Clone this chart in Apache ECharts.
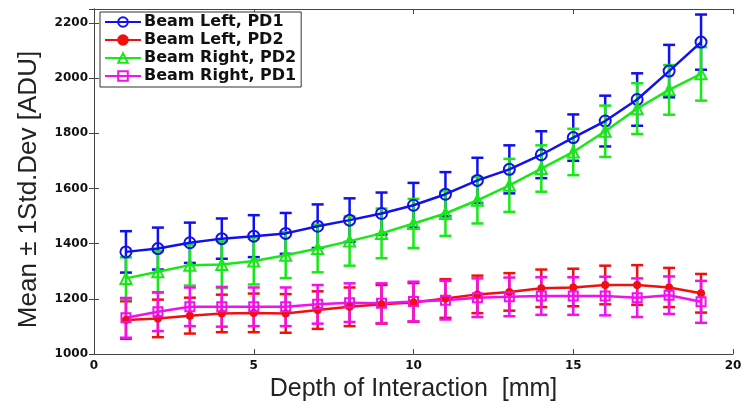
<!DOCTYPE html>
<html>
<head>
<meta charset="utf-8">
<script src="https://cdn.jsdelivr.net/npm/echarts@6/dist/echarts.min.js"></script>
<style>
html,body{margin:0;padding:0;background:#fff;}
#chart{width:750px;height:415px;}
</style>
</head>
<body>
<div id="chart"></div>
<script>
// ---- data ----
const depth = [1,2,3,4,5,6,7,8,9,10,11,12,13,14,15,16,17,18,19];

const seriesNames = ['Beam Left, PD1','Beam Left, PD2','Beam Right, PD2','Beam Right, PD1'];

const leftPD1Mean  = [1370,1382,1403,1418,1427,1437,1463,1485,1509,1539,1579,1629,1669,1722,1784,1844,1922,2025,2130];
const leftPD1Std   = [75,76,73,73,76,74,79,79,76,81,80,82,87,85,84,92,95,95,100];

const leftPD2Mean  = [1123,1129,1139,1147,1149,1147,1159,1171,1180,1187,1201,1216,1225,1238,1241,1250,1250,1241,1220];
const leftPD2Std   = [68,68,65,68,70,70,68,70,70,70,70,68,68,68,68,70,72,71,70];

const rightPD2Mean = [1274,1298,1322,1324,1337,1358,1382,1409,1437,1473,1509,1557,1611,1672,1732,1807,1889,1957,2015];
const rightPD2Std  = [76,74,74,85,85,83,86,89,90,89,81,84,96,84,84,93,92,90,97];

const rightPD1Mean = [1131,1153,1171,1171,1171,1171,1180,1186,1184,1190,1195,1204,1207,1210,1210,1210,1204,1213,1189];
const rightPD1Std  = [72,70,70,72,70,70,70,70,72,72,70,70,70,68,68,70,70,68,76];

const xTicks = [0,5,10,15,20];
const yTicks = [1000,1200,1400,1600,1800,2000,2200];

// ---- styling ----
const colors  = ['#1010f0','#f01010','#18e818','#f010f0'];
const symbols = ['circle','circle','triangle','rect'];
const symSizes = [11,6,11,9];
const symFill = ['rgba(0,0,0,0)', null, 'rgba(0,0,0,0)', 'rgba(0,0,0,0)'];
const means = [leftPD1Mean,leftPD2Mean,rightPD2Mean,rightPD1Mean];
const stds  = [leftPD1Std,leftPD2Std,rightPD2Std,rightPD1Std];

function errRender(color){
  return function(params, api){
    const x = api.value(0), lo = api.value(1), hi = api.value(2);
    const pLo = api.coord([x, lo]);
    const pHi = api.coord([x, hi]);
    const w = 6;
    const st = {stroke: color, lineWidth: 2.5};
    return {type:'group', children:[
      {type:'line', shape:{x1:pLo[0],y1:pLo[1],x2:pHi[0],y2:pHi[1]}, style:st},
      {type:'line', shape:{x1:pLo[0]-w,y1:pLo[1],x2:pLo[0]+w,y2:pLo[1]}, style:st},
      {type:'line', shape:{x1:pHi[0]-w,y1:pHi[1],x2:pHi[0]+w,y2:pHi[1]}, style:st}
    ]};
  };
}

const series = [];
for (let i = 0; i < 4; i++) {
  series.push({
    name: seriesNames[i],
    type: 'line',
    data: depth.map((d,k)=>[d, means[i][k]]),
    symbol: symbols[i],
    symbolSize: symSizes[i],
    showAllSymbol: true,
    lineStyle: {color: colors[i], width: 2.5},
    itemStyle: {color: symFill[i] || colors[i], borderColor: colors[i], borderWidth: 2},
    z: 3
  });
  series.push({
    name: 'err' + i,
    type: 'custom',
    data: depth.map((d,k)=>[d, means[i][k]-stds[i][k], means[i][k]+stds[i][k]]),
    renderItem: errRender(colors[i]),
    encode: {x:0, y:[1,2]},
    z: 2,
    silent: true
  });
}

const labelFont = {fontFamily:'DejaVu Sans', fontWeight:'bold', fontSize:12, color:'#111'};
const axisLineStyle = {color:'#444', width:1};

const option = {
  backgroundColor: '#fff',
  animation: false,
  grid: {left:94, right:17, top:9, bottom:61, containLabel:false},
  legend: {
    data: seriesNames,
    orient: 'vertical',
    left: 100, top: 12,
    padding: [2,5,3,4],
    itemGap: 2,
    itemWidth: 36,
    itemHeight: 12,
    borderColor: '#333',
    borderWidth: 1,
    backgroundColor: '#fff',
    textStyle: {fontFamily:'DejaVu Sans', fontWeight:'bold', fontSize:16, color:'#111', padding:[0,0,0,-2]}
  },
  xAxis: [
    {type:'value', min:0, max:20, interval:5, position:'bottom',
     name:'Depth of Interaction  [mm]', nameLocation:'middle', nameGap:19,
     nameTextStyle:{fontFamily:'Liberation Sans', fontSize:25, color:'#222'},
     axisLine:{show:true, lineStyle:axisLineStyle},
     axisTick:{show:true, inside:true, length:5, lineStyle:axisLineStyle},
     axisLabel:{...labelFont, margin:6, formatter:(v)=> xTicks.includes(v) ? String(v) : ''},
     splitLine:{show:false}},
    {type:'value', min:0, max:20, interval:5, position:'top',
     axisLine:{show:true, lineStyle:axisLineStyle},
     axisTick:{show:true, inside:true, length:5, lineStyle:axisLineStyle},
     axisLabel:{show:false}, splitLine:{show:false}}
  ],
  yAxis: [
    {type:'value', min:1000, max:2250, interval:200, position:'left',
     name:'Mean \u00b1 1Std.Dev [ADU]', nameLocation:'middle', nameGap:52,
     nameTextStyle:{fontFamily:'Liberation Sans', fontSize:26, color:'#222', padding:[0,16,0,0]},
     axisLine:{show:true, lineStyle:axisLineStyle},
     axisTick:{show:true, inside:true, length:5, lineStyle:axisLineStyle},
     axisLabel:{...labelFont, margin:6, showMaxLabel:false, formatter:(v)=> yTicks.includes(v) ? String(v) : ''},
     splitLine:{show:false}},
    {type:'value', min:1000, max:2250, interval:200, position:'right',
     axisLine:{show:true, lineStyle:axisLineStyle},
     axisTick:{show:true, inside:true, length:5, lineStyle:axisLineStyle},
     axisLabel:{show:false}, splitLine:{show:false}}
  ],
  series: series
};

const chart = echarts.init(document.getElementById('chart'));
chart.setOption(option);
</script>
</body>
</html>
